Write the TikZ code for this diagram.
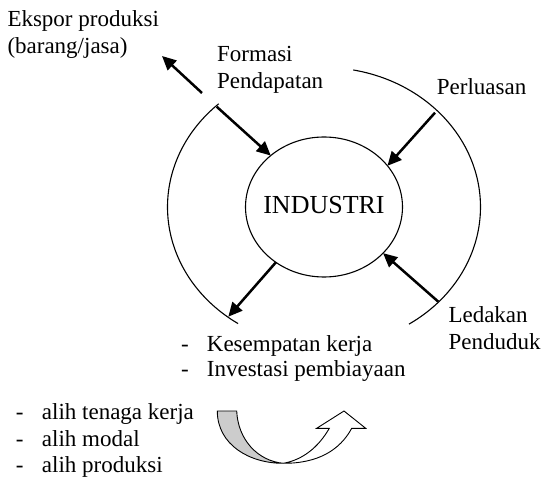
\documentclass[tikz,border=0pt]{standalone}
\usepackage{fontspec}
\setmainfont{Liberation Serif}
\usetikzlibrary{arrows.meta,shapes.geometric}
\begin{document}
\begin{tikzpicture}[x=1pt,y=-1pt,
  txt/.style={anchor=base west, inner sep=0pt, font=\fontsize{23}{26}\selectfont},
  ring/.style={line width=1.1pt},
  flow/.style={line width=2.5pt, -{Triangle[length=14pt,width=13pt]}},
  curv/.style={line width=0.9pt, line join=miter}]
\useasboundingbox (0,0) rectangle (541,478);

% central ellipse
\node[ellipse, draw, ring, minimum width=157pt, minimum height=140pt, inner sep=0pt, outer sep=0pt] (ind) at (324,207) {};
\node[anchor=base, inner sep=0pt, font=\fontsize{26}{30}\selectfont] (indtxt) at (324,213.3) {INDUSTRI};

% outer arcs
\draw[ring] plot[domain=132.3:236.7, samples=80] ({324+156.5*cos(\x)},{207-139.5*sin(\x)});
\draw[ring] plot[domain=-57.1:79.2, samples=80] ({324+156.5*cos(\x)},{207-139.5*sin(\x)});

% labels
\node[txt] (eks1) at (7.3,26.7) {Ekspor produksi};
\node[txt] (eks2) at (7.3,53.3) {(barang/jasa)};
\node[txt] (for1) at (217,62) {Formasi};
\node[txt] (for2) at (217,88.5) {Pendapatan};
\node[txt] (per) at (436.7,95) {Perluasan};
\node[txt] (led1) at (448.3,322.5) {Ledakan};
\node[txt] (led2) at (448.3,349) {Penduduk};
\node[txt] (kd1) at (180.8,351.7) {-};
\node[txt] (k1) at (206.7,351.7) {Kesempatan kerja};
\node[txt] (kd2) at (180.8,376.7) {-};
\node[txt] (k2) at (206.7,376.7) {Investasi pembiayaan};
\node[txt] (ad1) at (15.8,419.3) {-};
\node[txt] (a1) at (41.7,419.3) {alih tenaga kerja};
\node[txt] (ad2) at (15.8,446) {-};
\node[txt] (a2) at (41.7,446) {alih modal};
\node[txt] (ad3) at (15.8,472) {-};
\node[txt] (a3) at (41.7,472) {alih produksi};

% arrow end points on the outer ring
\coordinate (eT) at (202,93);
\coordinate (eH) at (162,56);
\coordinate (fT) at (216.7,106.7);
\coordinate (pT) at (435,112.7);
\coordinate (lT) at (438.3,301.7);
\coordinate (bH) at (228.3,316.7);

\draw[flow] (eT) -- (eH);
\draw[flow] (fT) -- (ind.136.6);
\draw[flow] (pT) -- (ind.33.2);
\draw[flow] (lT) -- (ind.-38.2);
\draw[flow] (ind.229.8) -- (bH);

% curved up arrow
\draw[curv, fill=black!20] (217.3,411) -- (236.7,411)
  .. controls (238,440) and (258,461) .. (283.3,463.3)
  .. controls (250,463.5) and (217.3,445) .. (217.3,411) -- cycle;
\draw[curv, fill=white] (283.3,463.3)
  .. controls (318,463.5) and (340,450) .. (351.7,428.3)
  -- (365.7,428.3) -- (344,411) -- (316.7,428.3) -- (329.3,428.3)
  .. controls (318,448) and (302,460) .. (283.3,463.3) -- cycle;
\end{tikzpicture}
\end{document}
